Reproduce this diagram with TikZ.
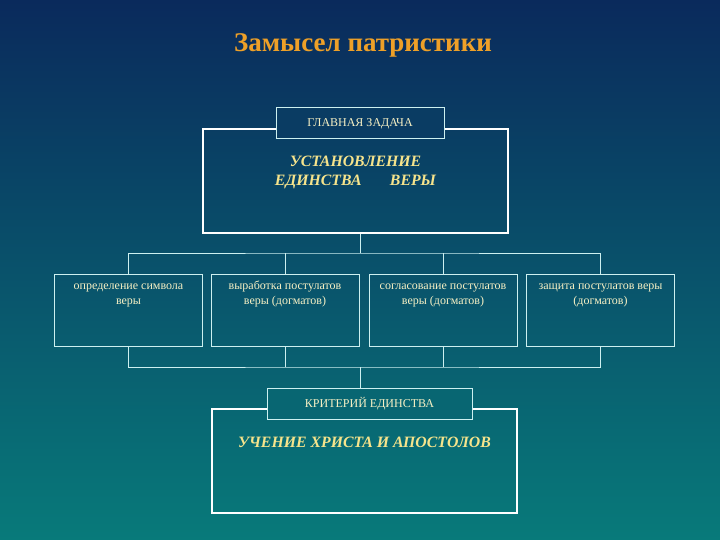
\documentclass[tikz,border=0pt]{standalone}
\usepackage{fontspec}
\setmainfont{Liberation Serif}
\usetikzlibrary{positioning}
\definecolor{bgtop}{RGB}{10,42,92}
\definecolor{bgbot}{RGB}{8,122,122}
\definecolor{titlegold}{RGB}{238,160,40}
\definecolor{textgold}{RGB}{246,228,140}
\definecolor{cream}{RGB}{246,240,196}
\definecolor{edge}{RGB}{205,240,240}
\newcommand{\boxlines}[1]{\begin{tabular}[t]{@{}c@{}}#1\end{tabular}}
\begin{document}
\begin{tikzpicture}[x=1pt,y=-1pt,
  mainbox/.style={draw=white,line width=2pt,minimum width=305pt,minimum height=104pt,inner sep=0pt},
  tagbox/.style={draw=edge,line width=1pt,minimum height=31pt,inner sep=0pt,text=cream,font=\fontsize{12}{13}\selectfont},
  subbox/.style={draw=edge,line width=0.9pt,minimum width=148pt,minimum height=72pt,inner sep=0pt},
  subtext/.style={anchor=base,inner sep=0pt,text=cream,font=\fontsize{12}{15}\selectfont},
  bigtext/.style={anchor=base,inner sep=0pt,text=textgold,font=\fontsize{15.8}{19}\selectfont\bfseries\itshape},
  link/.style={draw=edge,line width=0.9pt}]
  \shade[top color=bgtop,bottom color=bgbot] (0,0) rectangle (720,540);
  \useasboundingbox (0,0) rectangle (720,540);
  \node[text=titlegold,font=\fontsize{27}{30}\selectfont\bfseries] (title) at (363,45) {Замысел патристики};
  \node[mainbox] (main1) at (355.5,181) {};
  \node[tagbox,minimum width=168pt,fill=bgtop!77!bgbot] (tag1) at (360,123.5) {ГЛАВНАЯ ЗАДАЧА};
  \node[bigtext] (goal) at ([yshift=-39pt]main1.north) {\boxlines{УСТАНОВЛЕНИЕ\\ЕДИНСТВА\hspace{1.8em}ВЕРЫ}};
  \node[subbox] (b1) at (128.5,310) {};
  \node[subbox] (b2) at (285,310) {};
  \node[subbox] (b3) at (443,310) {};
  \node[subbox] (b4) at (600.5,310) {};
  \node[subtext] (t1) at ([yshift=-16pt]b1.north) {\boxlines{определение символа\\веры}};
  \node[subtext] (t2) at ([yshift=-16pt]b2.north) {\boxlines{выработка постулатов\\веры (догматов)}};
  \node[subtext] (t3) at ([yshift=-16pt]b3.north) {\boxlines{согласование постулатов\\веры (догматов)}};
  \node[subtext] (t4) at ([yshift=-16pt]b4.north) {\boxlines{защита постулатов веры\\(догматов)}};
  \node[mainbox] (main2) at (364.5,461) {};
  \node[tagbox,minimum width=205pt,fill=bgtop!25!bgbot] (tag2) at (369.5,403.5) {КРИТЕРИЙ ЕДИНСТВА};
  \node[bigtext] (rule) at ([yshift=-39pt]main2.north) {УЧЕНИЕ ХРИСТА И АПОСТОЛОВ};
  \coordinate (bus1) at (360,253);
  \coordinate (bus2) at (360,367);
  \draw[link] (tag1.south |- main1.south) -- (bus1);
  \draw[link] (b1.north) |- (bus1) -| (b4.north);
  \draw[link] (b2.north) -- (b2.north |- bus1);
  \draw[link] (b3.north) -- (b3.north |- bus1);
  \draw[link] (b1.south) |- (bus2) -| (b4.south);
  \draw[link] (b2.south) -- (b2.south |- bus2);
  \draw[link] (b3.south) -- (b3.south |- bus2);
  \draw[link] (bus2) -- (bus2 |- tag2.north);
\end{tikzpicture}
\end{document}
